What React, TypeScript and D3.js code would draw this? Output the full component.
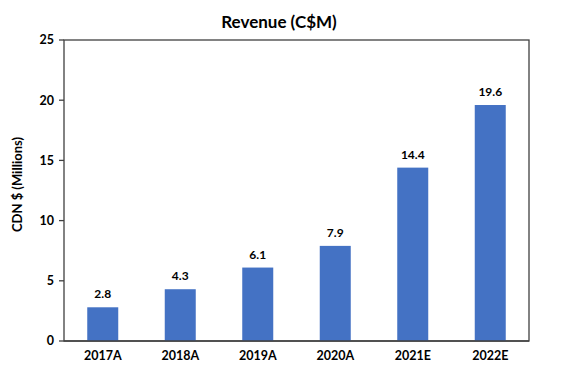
import React from 'react';
import * as d3 from 'd3';

const years = ['2017A', '2018A', '2019A', '2020A', '2021E', '2022E'];
const revenue = [2.8, 4.3, 6.1, 7.9, 14.4, 19.6];
const yTicks = [0, 5, 10, 15, 20, 25];

const W = 586;
const H = 385;
const margin = { top: 40, right: 57, bottom: 44, left: 64 };
const font = 'Lato, "Open Sans", sans-serif';

const App = () => {
  const innerW = W - margin.left - margin.right;
  const innerH = H - margin.top - margin.bottom;

  const x = d3.scaleBand().domain(years).range([0, innerW]).paddingInner(0.6).paddingOuter(0.3);
  const y = d3.scaleLinear().domain([0, 25]).range([innerH, 0]);

  return (
    <svg width={W} height={H} style={{ position: 'absolute', left: 0, top: 0, background: '#fff' }}>
      <text x={279} y={28} textAnchor="middle" fontFamily={font} fontWeight="bold" fontSize={17} fill="#000">
        Revenue (C$M)
      </text>
      <g transform={`translate(${margin.left},${margin.top})`}>
        <rect x={0} y={0} width={innerW} height={innerH} fill="none" stroke="#404040" strokeWidth={1.3} />
        {yTicks.map(t => (
          <g key={t} transform={`translate(0,${y(t)})`}>
            <line x1={-5} x2={0} stroke="#404040" strokeWidth={1.3} />
            <text x={-10} dy="0.35em" textAnchor="end" fontFamily={font} fontWeight="bold" fontSize={12.5} fill="#000">
              {t}
            </text>
          </g>
        ))}
        {years.map((yr, i) => (
          <g key={yr}>
            <rect x={x(yr)} y={y(revenue[i])} width={x.bandwidth()} height={innerH - y(revenue[i])} fill="#4472C4" />
            <text x={x(yr)! + x.bandwidth() / 2} y={y(revenue[i]) - 9} textAnchor="middle" fontFamily={font} fontWeight="bold" fontSize={12} fill="#000">
              {revenue[i].toFixed(1)}
            </text>
            <text x={x(yr)! + x.bandwidth() / 2} y={innerH + 19} textAnchor="middle" fontFamily={font} fontWeight="bold" fontSize={12.5} fill="#000">
              {yr}
            </text>
          </g>
        ))}
        <line x1={0} x2={innerW} y1={innerH} y2={innerH} stroke="#404040" strokeWidth={1.3} />
      </g>
      <text transform={`translate(22,${margin.top + innerH / 2 - 6}) rotate(-90)`} textAnchor="middle" fontFamily={font} fontWeight="bold" fontSize={13} fill="#000">
        CDN $ (Millions)
      </text>
    </svg>
  );
};

export default App;
